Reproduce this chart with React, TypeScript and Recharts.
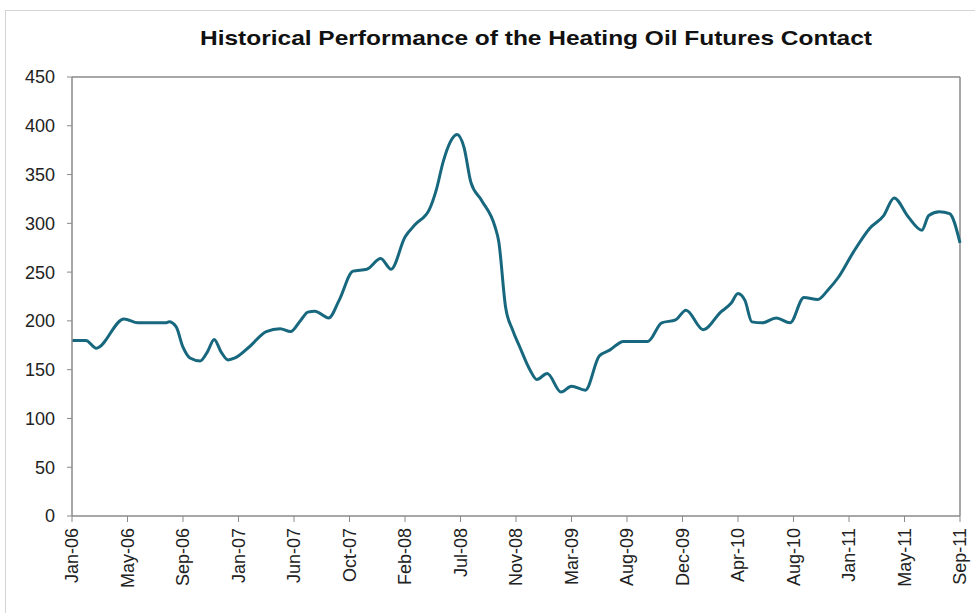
import React from "react";
import { LineChart, Line, XAxis, YAxis, ReferenceLine } from "recharts";

// Observation index (16 observations between successive date labels) and price (cents/gal)
const obsIndex = [
  0, 4, 7, 15, 19, 27, 28, 30, 32, 34, 37, 39, 41, 43, 45, 47, 51, 56, 60, 63,
  66, 68, 70, 74, 77, 81, 85, 89, 92, 96, 99, 103, 105, 107, 109, 111, 113, 115,
  118, 122, 123, 125, 127, 129, 132, 134, 137, 141, 144, 148, 152, 155, 159, 166,
  170, 174, 177, 182, 187, 190, 192, 194, 196, 199, 203, 207, 211, 215, 218, 221,
  225, 230, 234, 237, 241, 245, 247, 250, 253, 256,
];
const prices = [
  180, 180, 172, 202, 198, 198, 199, 194, 173, 162, 159, 168, 181, 168, 160, 162,
  173, 189, 192, 189, 201, 209, 210, 203, 221, 251, 253, 264, 253, 286, 299, 314,
  334, 363, 383, 391, 378, 342, 324, 296, 282, 214, 191, 174, 150, 140, 146, 127,
  133, 129, 164, 170, 179, 179, 198, 201, 211, 191, 209, 218, 228, 221, 199, 198,
  203, 198, 224, 222, 232, 245, 269, 295, 308, 326, 307, 293, 308, 312, 310, 280,
];
const dateLabels = [
  "Jan-06", "May-06", "Sep-06", "Jan-07", "Jun-07", "Oct-07", "Feb-08", "Jul-08",
  "Nov-08", "Mar-09", "Aug-09", "Dec-09", "Apr-10", "Aug-10", "Jan-11", "May-11",
  "Sep-11",
];
const yTicks = [0, 50, 100, 150, 200, 250, 300, 350, 400, 450];
const obsPerLabel = 16;
const title = "Historical Performance of the Heating Oil Futures Contact";

const data = obsIndex.map((x, i) => ({ x, price: prices[i] }));
const xTicks = dateLabels.map((_, i) => i * obsPerLabel);
const xMax = (dateLabels.length - 1) * obsPerLabel;
const yMax = yTicks[yTicks.length - 1];

const FONT = "'Liberation Sans', Arial, sans-serif";
const AXIS = "#8a8a8a";
const TXT = "#222";

const XTick = (props: any) => {
  const { x, y, payload } = props;
  const label = dateLabels[Math.round(payload.value / obsPerLabel)];
  return (
    <text
      x={x}
      y={y}
      transform={`rotate(-90, ${x}, ${y})`}
      textAnchor="end"
      dy="0.36em"
      fontSize={18}
      fontFamily={FONT}
      fill={TXT}
    >
      {label}
    </text>
  );
};

export default function App() {
  return (
    <div
      style={{
        position: "absolute",
        left: 0,
        top: 0,
        width: 975,
        height: 613,
        background: "#fff",
        overflow: "hidden",
      }}
    >
      <div
        style={{
          position: "absolute",
          left: 5,
          top: 10,
          width: 990,
          height: 640,
          border: "1px solid #d4d4d4",
          boxSizing: "border-box",
        }}
      />
      <LineChart
        width={975}
        height={613}
        data={data}
        margin={{ top: 77, right: 15, bottom: 0, left: 0 }}
        style={{ position: "absolute", left: 0, top: 0 }}
      >
        <text
          x={536}
          y={45}
          textAnchor="middle"
          fontSize={21}
          fontWeight="bold"
          fontFamily={FONT}
          fill="#111"
          textLength={672}
          lengthAdjust="spacingAndGlyphs"
        >
          {title}
        </text>
        <XAxis
          dataKey="x"
          type="number"
          domain={[0, xMax]}
          ticks={xTicks}
          interval={0}
          height={97}
          tickSize={6}
          tickMargin={6}
          tick={<XTick />}
          axisLine={{ stroke: AXIS, strokeWidth: 1.5 }}
          tickLine={{ stroke: AXIS, strokeWidth: 1 }}
        />
        <YAxis
          type="number"
          domain={[0, yMax]}
          ticks={yTicks}
          interval={0}
          width={72}
          tickSize={5}
          tickMargin={12}
          tick={{ fontSize: 18, fontFamily: FONT, fill: TXT }}
          axisLine={{ stroke: AXIS, strokeWidth: 1.5 }}
          tickLine={{ stroke: AXIS, strokeWidth: 1 }}
        />
        <ReferenceLine y={yMax} stroke={AXIS} strokeWidth={1.5} />
        <ReferenceLine x={xMax} stroke={AXIS} strokeWidth={1.5} />
        <Line
          type="monotone"
          dataKey="price"
          stroke="#17687e"
          strokeWidth={3}
          dot={false}
          isAnimationActive={false}
        />
      </LineChart>
    </div>
  );
}
